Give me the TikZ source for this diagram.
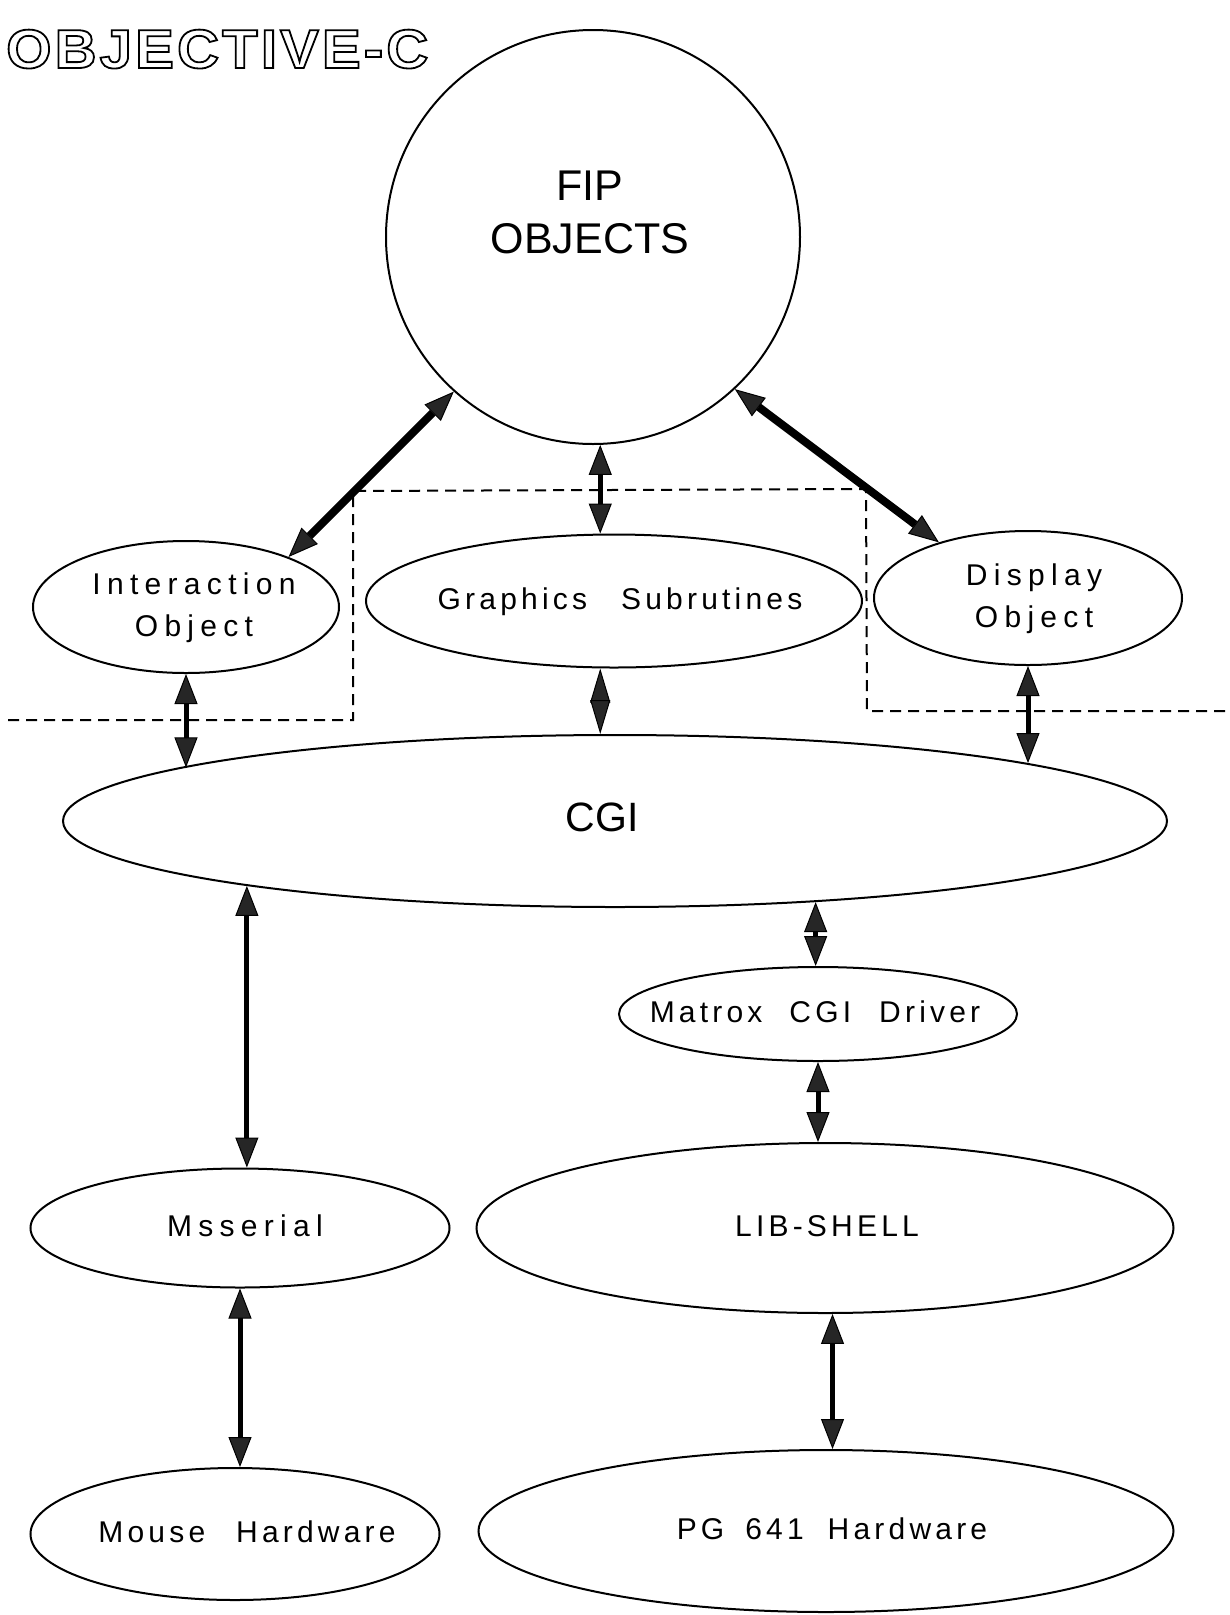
\documentclass[tikz,border=0pt]{standalone}
\usepackage{fontspec}
\usetikzlibrary{shapes.geometric,arrows.meta}
\setmainfont{Liberation Sans}
\newfontfamily\widefont[LetterSpace=21]{Liberation Sans}
\newfontfamily\narrowfont[LetterSpace=14]{Liberation Sans}
\newfontfamily\titlefont[LetterSpace=5.5,FakeStretch=1.06]{Liberation Sans}
% fixed word gap
\newcommand\wg[1]{\hspace{#1pt}}
% label text that does not widen its ellipse; the optional length moves it right by half its value
\newcommand\inlabel[2][0pt]{\makebox[0pt]{\hspace*{#1}\begin{tabular}{@{}c@{}}#2\end{tabular}}}
% outlined (stroked, unfilled) glyphs
\newcommand\outlined[1]{\special{pdf:literal direct 1 Tr 1.8 w}#1\special{pdf:literal direct 0 Tr}}

\begin{document}
\begin{tikzpicture}[x=1pt,y=-1pt,
  >={Triangle[length=30pt,width=23pt,line width=1pt,fill=black!85]},
  blob/.style={ellipse, draw, line width=2pt, inner sep=0pt},
  wide/.style={blob, font=\widefont\fontsize{30}{42}\selectfont},
  narrow/.style={blob, font=\narrowfont\fontsize{30}{42}\selectfont},
  bigtext/.style={inner sep=0pt, align=center, font=\fontsize{43}{53}\selectfont},
  link/.style={<->, line width=5pt},
  heavylink/.style={<->, line width=8pt},
  pinch/.style={line width=2pt,
    {Triangle[length=34pt,width=20pt,line width=1pt,fill=black!85]}-{Triangle[length=34pt,width=20pt,line width=1pt,fill=black!85]}},
  cutline/.style={line width=2pt, dash pattern=on 11pt off 7pt},
]
\useasboundingbox (0,0) rectangle (1230,1615);
\fill[white] (0,0) rectangle (1230,1615);

% heading
\node[anchor=base west, inner sep=0pt, font=\titlefont\bfseries\fontsize{55}{60}\selectfont]
  (title) at (6,68) {\outlined{OBJECTIVE-C}};

% top level object
\node[circle, draw, line width=2pt, minimum size=414pt, inner sep=0pt] (fip) at (593,237) {};
\node[bigtext] (fiptext) at (590,212) {FIP\\OBJECTS};

% object layer
\node[wide, minimum width=306pt, minimum height=132pt] (inter) at (186,607) {\inlabel[16pt]{Interaction\\Object}};
\node[narrow, minimum width=496pt, minimum height=133pt] (gfx) at (614,601) {\inlabel[12pt]{Graphics\wg{34}Subrutines}};
\node[wide, minimum width=308pt, minimum height=134pt] (disp) at (1028,598) {\inlabel[12pt]{Display\\Object}};

% graphics interface
\node[ellipse, draw, line width=2pt, inner sep=0pt, minimum width=1104pt, minimum height=172pt,
  font=\fontsize{41}{50}\selectfont] (cgi) at (615,821) {\inlabel[-26pt]{CGI}};

% drivers and hardware
\node[narrow, minimum width=398pt, minimum height=94pt] (mat) at (818,1014) {\inlabel[-6pt]{Matrox\wg{27}CGI\wg{28}Driver}};
\node[wide, minimum width=419pt, minimum height=119pt] (ms) at (240,1228) {\inlabel[10pt]{Msserial}};
\node[narrow, minimum width=697pt, minimum height=170pt] (lib) at (825,1228) {\inlabel[4pt]{LIB-SHELL}};
\node[narrow, minimum width=409pt, minimum height=132pt] (mouse) at (235,1534) {\inlabel[24pt]{Mouse\wg{31}Hardware}};
\node[narrow, minimum width=695pt, minimum height=162pt] (pg) at (826,1531) {\inlabel[12pt]{PG\wg{21}641\wg{24}Hardware}};

% boundary of the object layer
\draw[cutline] (8,720) -- (353,720) -- (353,491) -- (866,489) -- (867,711) -- (1225,711);

% connections
\draw[heavylink] (fip.228) -- (inter.26);
\draw[heavylink] (fip.313) -- (disp.148);
\draw[link] (fip.272) -- (fip.272 |- gfx.north);
\draw[pinch] (fip.272 |- gfx.south) -- (fip.272 |- cgi.north);
\draw[link] (inter.south) -- (inter.south |- cgi.173);
\draw[link] (disp.south) -- (disp.south |- cgi.8);
\draw[link] (cgi.190.5) -- (cgi.190.5 |- ms.north);
\draw[link] (cgi.338.3) -- (cgi.338.3 |- mat.north);
\draw[link] (mat.south) -- (mat.south |- lib.north);
\draw[link] (ms.south) -- (ms.south |- mouse.north);
\draw[link] (lib.275) -- (lib.275 |- pg.north);
\end{tikzpicture}
\end{document}
